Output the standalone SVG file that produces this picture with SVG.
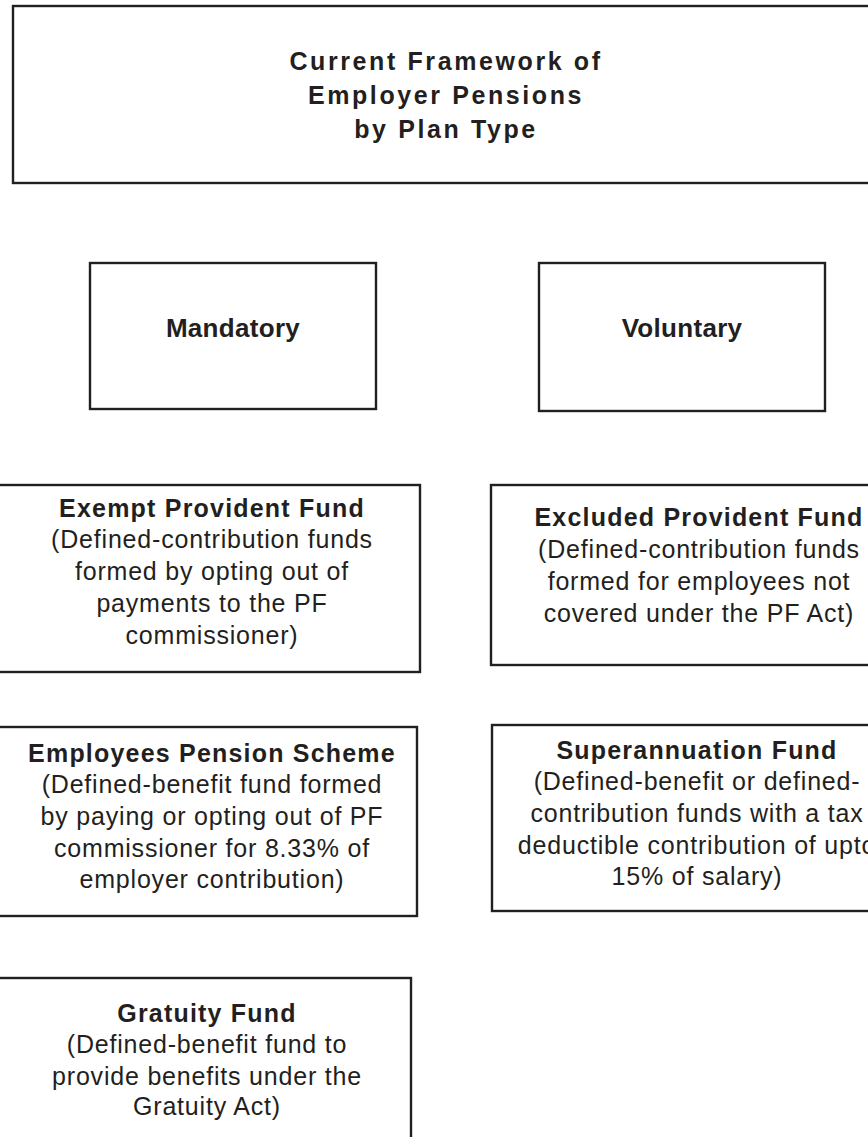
<svg xmlns="http://www.w3.org/2000/svg" width="868" height="1137" viewBox="0 0 868 1137">
<style>
.box{fill:#ffffff;stroke:#231f20;stroke-width:2.4}
.t{font-family:"Liberation Sans",Arial,Helvetica,sans-serif;fill:#231f20;text-anchor:middle}
.title{font-size:25px;font-weight:bold;letter-spacing:2.6px}
.cat{font-size:26px;font-weight:bold;letter-spacing:0.3px}
.h{font-size:25px;font-weight:bold;letter-spacing:1.2px}
.b{font-size:25px;letter-spacing:0.8px}
</style>
<rect x="0" y="0" width="868" height="1137" fill="#ffffff"/>
<g id="connectors"></g>
<g id="title">
<rect class="box" x="13" y="6" width="866" height="177"/>
<text class="t title" x="446" y="70">Current Framework of</text>
<text class="t title" x="446" y="104">Employer Pensions</text>
<text class="t title" x="446" y="138">by Plan Type</text>
</g>
<g id="mandatory">
<rect class="box" x="90" y="263" width="286" height="146"/>
<text class="t cat" x="233" y="337">Mandatory</text>
</g>
<g id="voluntary">
<rect class="box" x="539" y="263" width="286" height="148"/>
<text class="t cat" x="682" y="337">Voluntary</text>
</g>
<g id="exempt-pf">
<rect class="box" x="-10" y="485" width="430" height="187"/>
<text class="t h" x="212" y="517">Exempt Provident Fund</text>
<text class="t b" x="212" y="548">(Defined-contribution funds</text>
<text class="t b" x="212" y="580">formed by opting out of</text>
<text class="t b" x="212" y="612">payments to the PF</text>
<text class="t b" x="212" y="644">commissioner)</text>
</g>
<g id="excluded-pf">
<rect class="box" x="491" y="485" width="420" height="180"/>
<text class="t h" x="699" y="526">Excluded Provident Fund</text>
<text class="t b" x="699" y="558">(Defined-contribution funds</text>
<text class="t b" x="699" y="590">formed for employees not</text>
<text class="t b" x="699" y="622">covered under the PF Act)</text>
</g>
<g id="employees-pension">
<rect class="box" x="-10" y="727" width="427" height="189"/>
<text class="t h" x="212" y="762">Employees Pension Scheme</text>
<text class="t b" x="212" y="793">(Defined-benefit fund formed</text>
<text class="t b" x="212" y="825">by paying or opting out of PF</text>
<text class="t b" x="212" y="857">commissioner for 8.33% of</text>
<text class="t b" x="212" y="888">employer contribution)</text>
</g>
<g id="superannuation">
<rect class="box" x="492" y="725" width="410" height="186"/>
<text class="t h" x="697" y="759">Superannuation Fund</text>
<text class="t b" x="697" y="790">(Defined-benefit or defined-</text>
<text class="t b" x="697" y="822">contribution funds with a tax</text>
<text class="t b" x="697" y="854">deductible contribution of upto</text>
<text class="t b" x="697" y="885">15% of salary)</text>
</g>
<g id="gratuity">
<rect class="box" x="-10" y="978" width="421" height="170"/>
<text class="t h" x="207" y="1022">Gratuity Fund</text>
<text class="t b" x="207" y="1053">(Defined-benefit fund to</text>
<text class="t b" x="207" y="1085">provide benefits under the</text>
<text class="t b" x="207" y="1115">Gratuity Act)</text>
</g>
</svg>
